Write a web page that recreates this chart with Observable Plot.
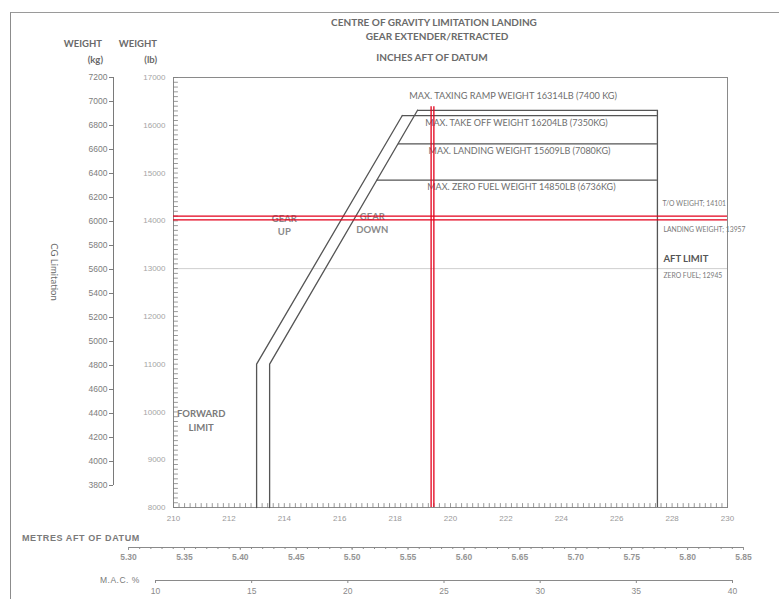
<!DOCTYPE html>
<html><head><meta charset="utf-8">
<script src="https://cdn.jsdelivr.net/npm/d3@7"></script>
<script src="https://cdn.jsdelivr.net/npm/@observablehq/plot@0.6"></script>
<style>
html,body{margin:0;padding:0;background:#fff;}
#page{position:relative;width:779px;height:599px;overflow:hidden;font-family:Lato,"Open Sans",sans-serif;color:#707070;}
.layer{position:absolute;left:0;top:0;}
.t{position:absolute;white-space:nowrap;line-height:1;}
</style></head>
<body><div id="page"></div>
<script>
// ---- tick labels ----
const inchTicks = [210, 212, 214, 216, 218, 220, 222, 224, 226, 228, 230];
const lbTicks = [8000, 9000, 10000, 11000, 12000, 13000, 14000, 15000, 16000, 17000];
const kgTicks = [3800, 4000, 4200, 4400, 4600, 4800, 5000, 5200, 5400, 5600, 5800, 6000, 6200, 6400, 6600, 6800, 7000, 7200];
const metreTicks = [5.30, 5.35, 5.40, 5.45, 5.50, 5.55, 5.60, 5.65, 5.70, 5.75, 5.80, 5.85];
const macTicks = [10, 15, 20, 25, 30, 35, 40];
// minor tick positions along the frame
const lbMinorTicks = d3.range(8000, 17001, 100);
const inchMinorTicks = d3.range(210, 230.001, 0.2);
const metreMinorTicks = d3.range(5.30, 5.8501, 0.01);

// ---- envelope (inches aft of datum / weight lb) ----
const gearUpInch = [213.0, 213.0, 218.26];
const gearUpLb = [8000, 11000, 16204];
const gearDownInch = [213.47, 213.47, 218.81];
const gearDownLb = [8000, 11000, 16314];
const aftLimitInch = 227.47;

const limitNames = ["MAX. TAXING RAMP WEIGHT 16314LB (7400 KG)", "MAX. TAKE OFF WEIGHT 16204LB (7350KG)", "MAX. LANDING WEIGHT 15609LB (7080KG)", "MAX. ZERO FUEL WEIGHT 14850LB (6736KG)"];
const limitLb = [16314, 16204, 15609, 14850];
const limitStartInch = [218.81, 218.26, 218.12, 217.35];

const gridLb = [13000];

// ---- loading annotations ----
const loadNames = ["T/O WEIGHT; 14101", "LANDING WEIGHT; 13957", "ZERO FUEL; 12945"];
const loadLb = [14101, 13957, 12945];
const redCgInch = [219.30, 219.40];
const redWeightLb = [14100, 14020];
const redTopLb = 16390;

const gearUpText = ["GEAR\nUP"];
const gearDownText = ["GEAR\nDOWN"];
const forwardText = ["FORWARD\nLIMIT"];
const aftText = ["AFT LIMIT"];

// ---- tables ----
const gearUp = gearUpInch.map((x, i) => ({x, y: gearUpLb[i]}));
const gearDown = gearDownInch.map((x, i) => ({x, y: gearDownLb[i]}));
const limits = limitLb.map((lb, i) => ({name: limitNames[i], lb, start: limitStartInch[i]}));
const loads = loadLb.map((lb, i) => ({name: loadNames[i], lb}));

const tickShape = {draw(ctx, l) { ctx.moveTo(0, 0); ctx.lineTo(0, -l); }};
const numFont = "'Liberation Sans', Arial, sans-serif";
const txtFont = "Lato, 'Open Sans', sans-serif";

const page = document.getElementById("page");

// page border (scanned sheet)
const border = document.createElement("div");
border.style.cssText = "position:absolute;left:10px;top:12px;width:800px;height:600px;border-left:1px solid #8c8c8c;border-top:1px solid #9a9a9a;";
page.appendChild(border);

const main = Plot.plot({
  width: 779, height: 599,
  marginLeft: 173, marginRight: 52, marginTop: 77, marginBottom: 92,
  style: {fontFamily: txtFont, fontSize: "8px", color: "#777", background: "transparent", overflow: "visible"},
  x: {domain: [210, 230], label: null, axis: null},
  y: {domain: [8000, 17000], label: null, axis: null},
  marks: [
    Plot.ruleY(gridLb, {stroke: "#cfcfcf", strokeWidth: 1}),
    Plot.frame({stroke: "#8a8a8a", strokeWidth: 1}),
    Plot.vector(lbMinorTicks, {y: d => d, frameAnchor: "left", rotate: 90, length: 4, anchor: "start", shape: tickShape, stroke: "#808080", strokeWidth: 0.8}),
    Plot.vector(inchMinorTicks, {x: d => d, frameAnchor: "bottom", rotate: 0, length: 4, anchor: "start", shape: tickShape, stroke: "#808080", strokeWidth: 0.8}),
    Plot.axisX(inchTicks, {anchor: "bottom", tickSize: 0, tickPadding: 8, tickFormat: d => String(d), fontSize: 8, fontFamily: numFont, color: "#9a9a9a"}),
    Plot.axisY(lbTicks, {anchor: "left", tickSize: 0, tickPadding: 8, tickFormat: d => String(d), fontSize: 8, fontFamily: numFont, color: "#a5a5a5"}),
    // envelope
    Plot.line(gearUp, {x: "x", y: "y", stroke: "#555", strokeWidth: 1.3}),
    Plot.line(gearDown, {x: "x", y: "y", stroke: "#555", strokeWidth: 1.3}),
    Plot.ruleY(limits, {y: "lb", x1: "start", x2: aftLimitInch, stroke: "#555", strokeWidth: 1.3}),
    Plot.ruleX([aftLimitInch], {y1: 8000, y2: limitLb[0], stroke: "#555", strokeWidth: 1.3}),
    // limit labels
    Plot.text(limits.slice(0, 1), {x: 222.26, y: "lb", dy: -14, text: "name", fontSize: 9.2, fill: "#6e6e6e"}),
    Plot.text(limits.slice(1, 2), {x: 222.38, y: "lb", dy: 8, text: "name", fontSize: 9, fill: "#6e6e6e"}),
    Plot.text(limits.slice(2, 3), {x: 222.49, y: "lb", dy: 7, text: "name", fontSize: 9, fill: "#6e6e6e"}),
    Plot.text(limits.slice(3), {x: 222.56, y: "lb", dy: 7, text: "name", fontSize: 9, fill: "#6e6e6e"}),
    // region labels
    Plot.text(gearUpText, {x: 214.0, y: 13923, text: d => d, fontSize: 9.5, fontWeight: "bold", fill: "#8a8a8a", lineHeight: 1.4}),
    Plot.text(gearDownText, {x: 217.18, y: 13965, text: d => d, fontSize: 9.5, fontWeight: "bold", fill: "#8a8a8a", lineHeight: 1.4}),
    Plot.text(forwardText, {x: 211.0, y: 9838, text: d => d, fontSize: 9.5, fontWeight: "bold", fill: "#7a7a7a", lineHeight: 1.5}),
    Plot.text(aftText, {x: aftLimitInch, y: 13212, dx: 6, text: d => d, textAnchor: "start", fontSize: 9.5, fontWeight: "bold", fill: "#555"}),
    // loading notes
    Plot.text(loads.slice(0, 1), {x: aftLimitInch, y: "lb", dx: 5, dy: -12, text: "name", textAnchor: "start", fontSize: 6.8, fill: "#7a7a7a"}),
    Plot.text(loads.slice(1, 2), {x: aftLimitInch, y: "lb", dx: 6, dy: 7, text: "name", textAnchor: "start", fontSize: 6.8, fill: "#7a7a7a"}),
    Plot.text(loads.slice(2), {x: aftLimitInch, y: "lb", dx: 6, dy: 5, text: "name", textAnchor: "start", fontSize: 6.8, fill: "#7a7a7a"}),
    // red plotted lines
    Plot.ruleY(redWeightLb, {stroke: "#e3001b", strokeWidth: 1.3}),
    Plot.ruleX(redCgInch, {y1: 8000, y2: redTopLb, stroke: "#e3001b", strokeWidth: 1.3})
  ]
});
main.classList.add("layer");
page.appendChild(main);

// kg axis
const kg = Plot.plot({
  width: 173, height: 599, marginLeft: 113, marginRight: 0, marginTop: 77, marginBottom: 114,
  style: {fontFamily: numFont, fontSize: "9px", color: "#7d7d7d", background: "transparent"},
  x: {domain: [0, 1], axis: null},
  y: {domain: [3800, 7200], axis: null},
  marks: [
    Plot.ruleX([0], {y1: 3800, y2: 7200, stroke: "#7a7a7a", strokeWidth: 1}),
    Plot.axisY(kgTicks, {anchor: "left", tickSize: 4, tickPadding: 2, tickFormat: d => String(d), fontSize: 8.5, color: "#7d7d7d"})
  ]
});
kg.classList.add("layer");
page.appendChild(kg);

// metres axis
const metres = Plot.plot({
  width: 779, height: 40, marginLeft: 128, marginRight: 36, marginTop: 17, marginBottom: 23,
  style: {fontFamily: numFont, fontSize: "8px", color: "#8a8a8a", background: "transparent", overflow: "visible"},
  x: {domain: [5.30, 5.85], axis: null},
  y: {domain: [0, 1], axis: null},
  marks: [
    Plot.ruleY([0], {stroke: "#8a8a8a", strokeWidth: 1}),
    Plot.axisX(metreMinorTicks, {anchor: "bottom", tickSize: 2, tickFormat: () => "", color: "#8a8a8a"}),
    Plot.axisX(metreTicks, {anchor: "bottom", tickSize: 3, tickPadding: 3, tickFormat: d => d.toFixed(2), fontSize: 8.5, fontWeight: "bold", color: "#959595"})
  ]
});
metres.classList.add("layer");
metres.style.top = "530px";
page.appendChild(metres);

// MAC axis
const mac = Plot.plot({
  width: 779, height: 40, marginLeft: 155, marginRight: 47, marginTop: 15, marginBottom: 25,
  style: {fontFamily: numFont, fontSize: "8px", color: "#8a8a8a", background: "transparent", overflow: "visible"},
  x: {domain: [10, 40], axis: null},
  y: {domain: [0, 1], axis: null},
  marks: [
    Plot.ruleY([0], {stroke: "#8a8a8a", strokeWidth: 1}),
    Plot.axisX(macTicks, {anchor: "bottom", tickSize: 3, tickPadding: 4, tickFormat: d => String(d), fontSize: 8.5, color: "#8a8a8a"})
  ]
});
mac.classList.add("layer");
mac.style.top = "565px";
page.appendChild(mac);

// titles and axis captions
function addText(txt, x, y, css, anchor) {
  const d = document.createElement("div");
  d.className = "t";
  d.textContent = txt;
  d.style.cssText += css;
  d.style.left = x + "px";
  d.style.top = y + "px";
  const tx = anchor === "start" ? "0" : anchor === "end" ? "-100%" : "-50%";
  d.style.transform = `translate(${tx},-50%)`;
  page.appendChild(d);
  return d;
}
const titleCss = "font-weight:bold;font-size:10px;color:#6a6a6a;";
const headCss = "font-weight:bold;font-size:9.5px;color:#6a6a6a;";
addText("CENTRE OF GRAVITY LIMITATION LANDING", 434, 22, titleCss);
addText("GEAR EXTENDER/RETRACTED", 437, 36, titleCss);
addText("INCHES AFT OF DATUM", 432, 57, titleCss);
addText("WEIGHT", 102, 44, headCss, "end");
addText("(kg)", 103, 60, headCss, "end");
addText("WEIGHT", 157, 44, headCss, "end");
addText("(lb)", 157, 60, headCss, "end");
const cg = addText("CG Limitation", 54, 272, "font-size:9.5px;color:#6a6a6a;");
cg.style.transform = "translate(-50%,-50%) rotate(90deg)";
addText("METRES AFT OF DATUM", 22, 538, "font-family:'Liberation Sans',Arial,sans-serif;font-weight:bold;font-size:9px;letter-spacing:0.6px;color:#7a7a7a;", "start");
addText("M.A.C. %", 100, 580, "font-family:'Liberation Sans',Arial,sans-serif;font-size:8.5px;letter-spacing:0.5px;color:#7a7a7a;", "start");
</script>
</body></html>
